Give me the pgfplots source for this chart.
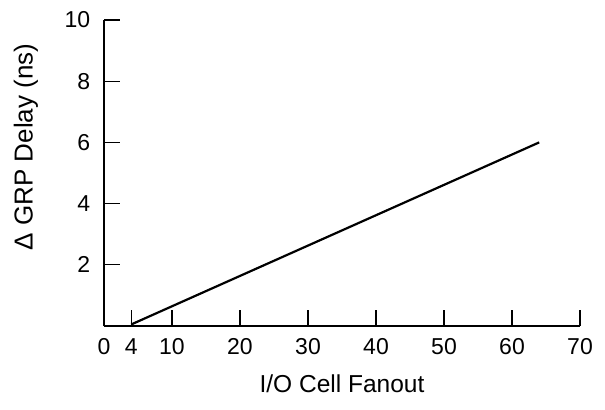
\documentclass[border=0pt]{standalone}
\usepackage{fontspec}
\setmainfont{Liberation Sans}
\usepackage{pgfplots}
\pgfplotsset{compat=1.18}

\begin{document}
\fontsize{23bp}{27bp}\selectfont
\begin{tikzpicture}
    \begin{axis}[
            scale only axis,
            width=476bp, height=306bp,
            xmin=0, xmax=70,
            ymin=0, ymax=10,
            axis x line=bottom,
            axis y line=left,
            axis line style={line width=2bp, -},
            xtick={0,4,10,20,30,40,50,60,70},
            ytick={2,4,6,8,10},
            tick align=inside,
            major tick length=16bp,
            tick style={line width=1.2bp, black},
            /pgf/number format/assume math mode=true,
            ticklabel style={font=\fontsize{23bp}{27bp}\selectfont},
            xticklabel style={yshift=-5bp},
            yticklabel style={xshift=-6bp},
            label style={font=\fontsize{24.5bp}{29bp}\selectfont},
            xlabel={I/O Cell Fanout},
            ylabel={Δ GRP Delay (ns)},
            xlabel style={yshift=-4bp},
            ylabel style={yshift=11bp, xshift=26bp, font=\fontsize{26bp}{30bp}\selectfont},
            clip=false,
        ]
        % delay increase vs fanout
        \addplot[black, line width=2.2bp, mark=none] coordinates {
                (4, 0.05)
                (64, 6.0)
            };
    \end{axis}
    \path (current axis.south west) ++(-104bp,-83bp) (current axis.north east) ++(25bp,20bp);
\end{tikzpicture}
\end{document}
